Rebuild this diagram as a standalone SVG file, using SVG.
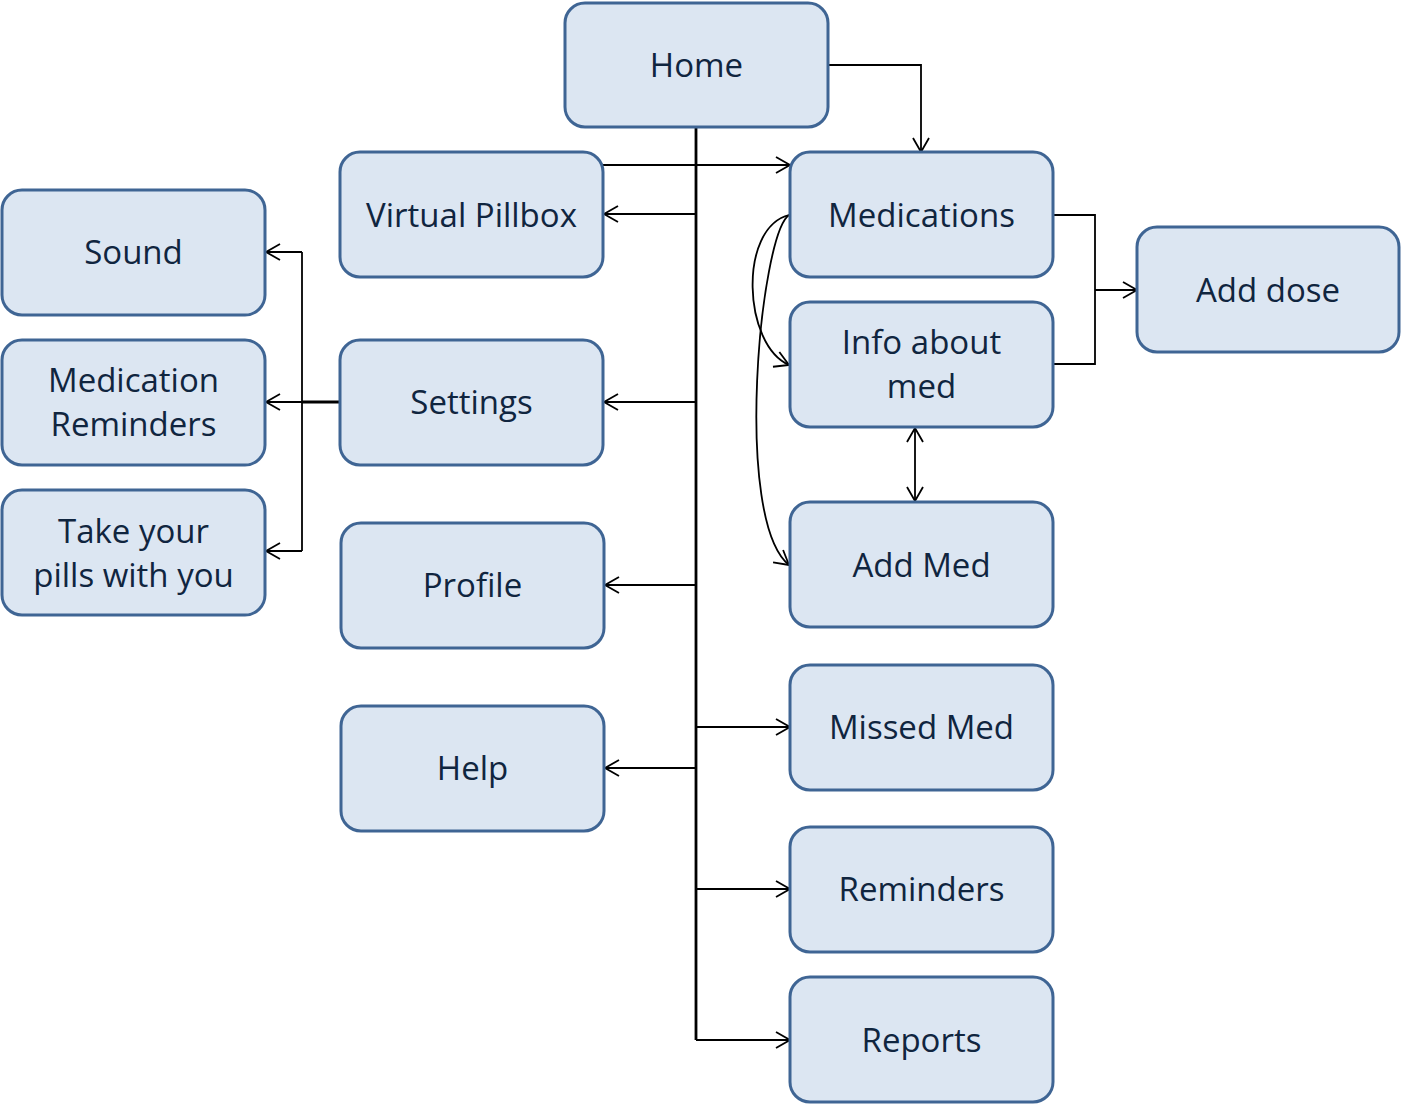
<svg xmlns="http://www.w3.org/2000/svg" width="1401" height="1104" viewBox="0 0 1401 1104">
<style>
.box{fill:#dce6f2;stroke:#3f6594;stroke-width:3}
.lbl{font-family:"Open Sans","Noto Sans",sans-serif;font-size:33px;fill:#10253f;text-anchor:middle}
.c{fill:none;stroke:#000;stroke-width:1.8}
.thick{stroke-width:2.8}
.a{marker-end:url(#ah)}
</style>
<defs>
<marker id="ah" markerUnits="userSpaceOnUse" markerWidth="18" markerHeight="18" refX="15" refY="9" orient="auto-start-reverse">
<path d="M1,1 L15,9 L1,17" fill="none" stroke="#000" stroke-width="1.8"/>
</marker>
</defs>
<rect width="1401" height="1104" fill="#fff"/>
<g id="connectors">
<path class="c thick" d="M696,127 V1040"/>
<path class="c a" d="M828,65 H921 V152"/>
<path class="c a" d="M603,165 H790"/>
<path class="c a" d="M696,214 H604"/>
<path class="c a" d="M696,402 H604"/>
<path class="c a" d="M696,585 H605"/>
<path class="c a" d="M696,768 H605"/>
<path class="c a" d="M696,727 H790"/>
<path class="c a" d="M696,889 H790"/>
<path class="c a" d="M696,1040 H790"/>
<path class="c thick" d="M340,402 H302"/>
<path class="c" d="M302,252 V551"/>
<path class="c a" d="M302,252 H266"/>
<path class="c a" d="M302,402 H266"/>
<path class="c a" d="M302,551 H266"/>
<path class="c" d="M1053,215 H1095 V364 H1053"/>
<path class="c a" d="M1095,290 H1137"/>
<path class="c a" d="M915,428 V501" marker-start="url(#ah)"/>
<path class="c a" d="M789,215 C738,228 743,345 789,365"/>
<path class="c a" d="M789,215 C760,235 733,520 789,565"/>
</g>
<g id="home"><rect class="box" x="565" y="3" width="263" height="124" rx="20"/><text class="lbl" x="696.5" y="77">Home</text></g>
<g id="virtual-pillbox"><rect class="box" x="340" y="152" width="263" height="125" rx="20"/><text class="lbl" x="471.5" y="227">Virtual Pillbox</text></g>
<g id="medications"><rect class="box" x="790" y="152" width="263" height="125" rx="20"/><text class="lbl" x="921.5" y="227">Medications</text></g>
<g id="sound"><rect class="box" x="2" y="190" width="263" height="125" rx="20"/><text class="lbl" x="133.5" y="264">Sound</text></g>
<g id="settings"><rect class="box" x="340" y="340" width="263" height="125" rx="20"/><text class="lbl" x="471.5" y="414">Settings</text></g>
<g id="medication-reminders"><rect class="box" x="2" y="340" width="263" height="125" rx="20"/><text class="lbl" x="133.5" y="392">Medication</text><text class="lbl" x="133.5" y="436">Reminders</text></g>
<g id="info-about-med"><rect class="box" x="790" y="302" width="263" height="125" rx="20"/><text class="lbl" x="921.5" y="354">Info about</text><text class="lbl" x="921.5" y="398">med</text></g>
<g id="add-dose"><rect class="box" x="1137" y="227" width="262" height="125" rx="20"/><text class="lbl" x="1268" y="302">Add dose</text></g>
<g id="take-your-pills"><rect class="box" x="2" y="490" width="263" height="125" rx="20"/><text class="lbl" x="133.5" y="543">Take your</text><text class="lbl" x="133.5" y="587">pills with you</text></g>
<g id="profile"><rect class="box" x="341" y="523" width="263" height="125" rx="20"/><text class="lbl" x="472.5" y="597">Profile</text></g>
<g id="add-med"><rect class="box" x="790" y="502" width="263" height="125" rx="20"/><text class="lbl" x="921.5" y="577">Add Med</text></g>
<g id="help"><rect class="box" x="341" y="706" width="263" height="125" rx="20"/><text class="lbl" x="472.5" y="780">Help</text></g>
<g id="missed-med"><rect class="box" x="790" y="665" width="263" height="125" rx="20"/><text class="lbl" x="921.5" y="739">Missed Med</text></g>
<g id="reminders"><rect class="box" x="790" y="827" width="263" height="125" rx="20"/><text class="lbl" x="921.5" y="901">Reminders</text></g>
<g id="reports"><rect class="box" x="790" y="977" width="263" height="125" rx="20"/><text class="lbl" x="921.5" y="1052">Reports</text></g>
</svg>
